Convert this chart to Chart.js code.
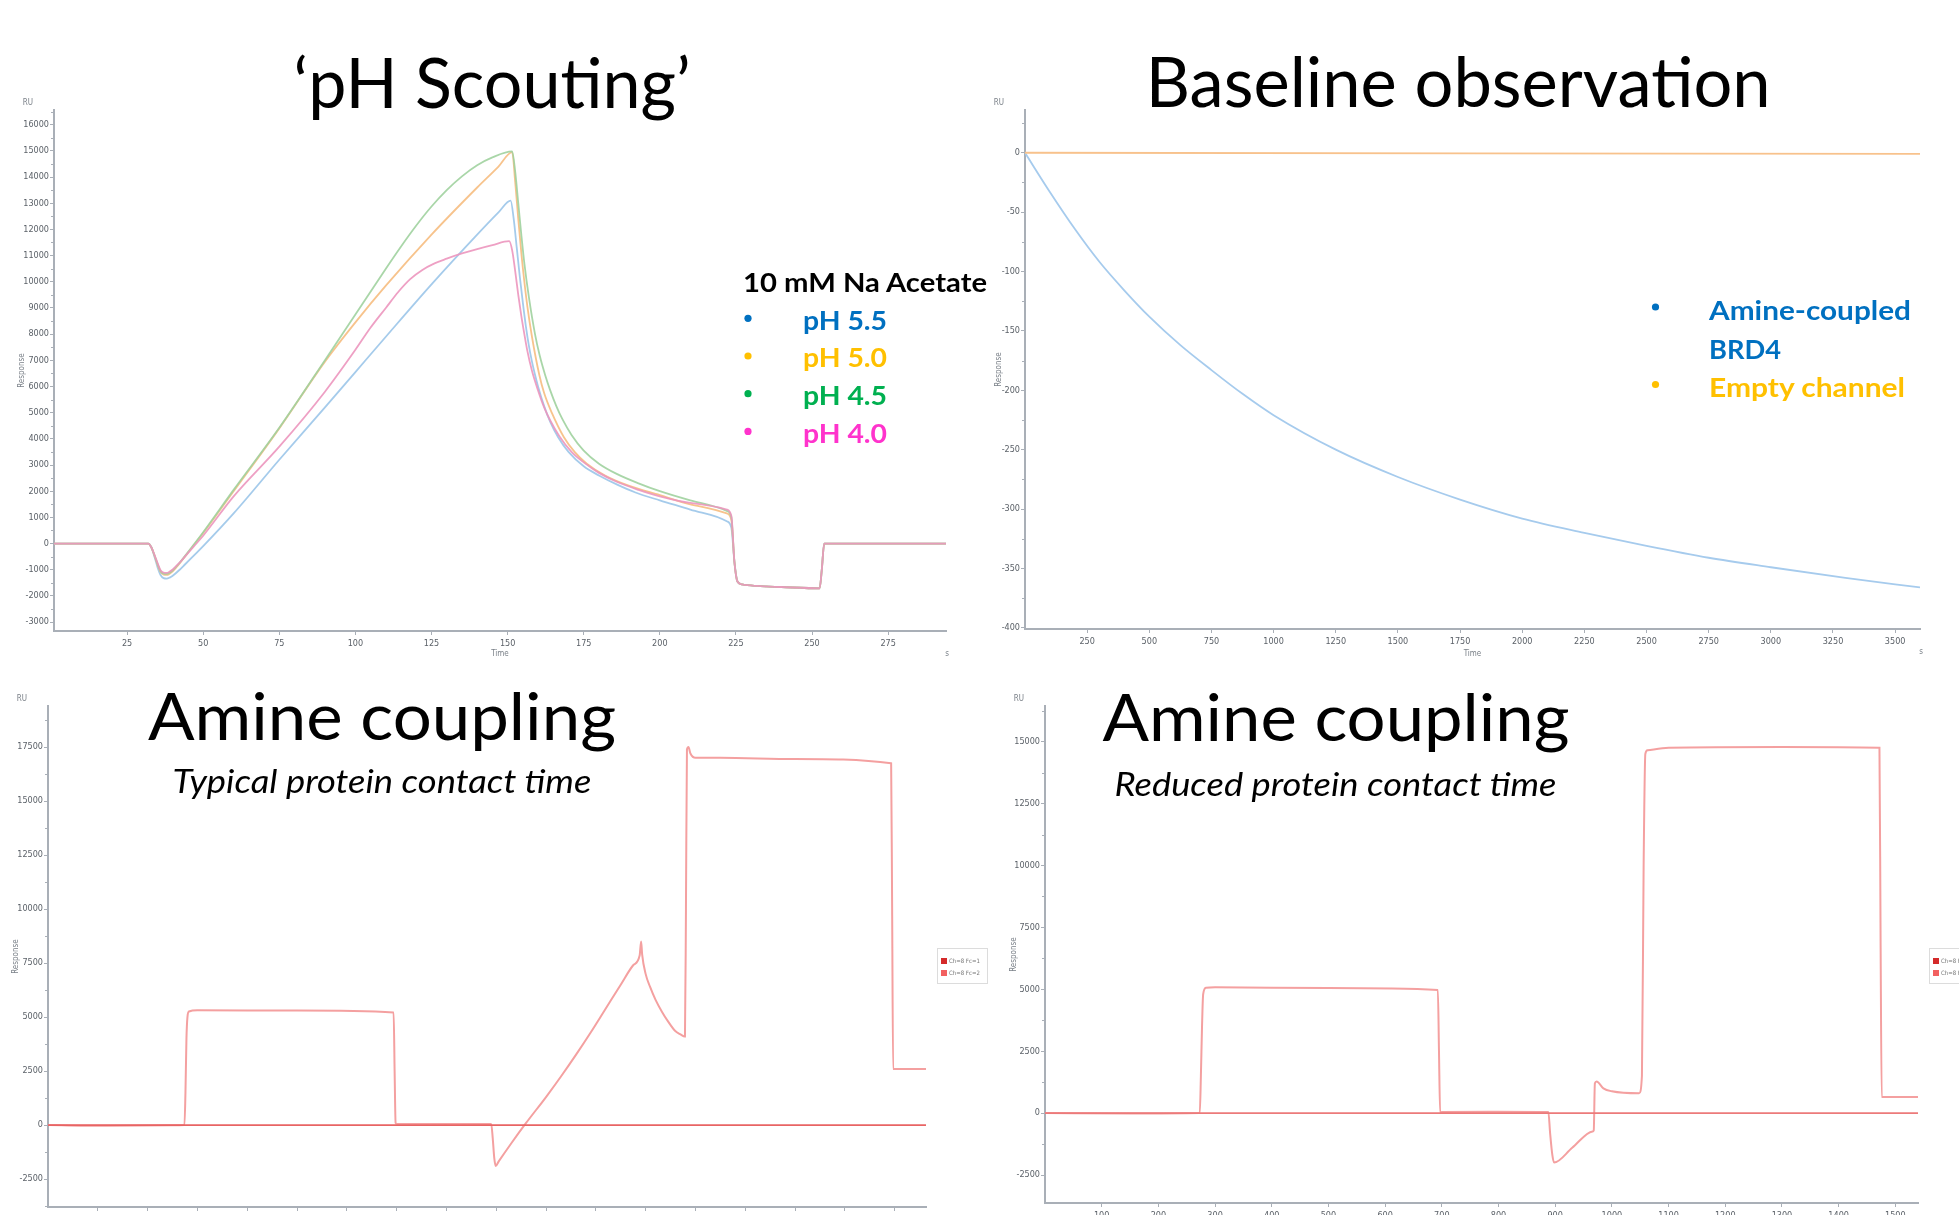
<!DOCTYPE html>
<html>
<head>
<meta charset="utf-8">
<script src="https://cdn.jsdelivr.net/npm/chart.js@4.4.0/dist/chart.umd.min.js"></script>
<style>
html, body { margin: 0; padding: 0; background: #fff; width: 1959px; height: 1215px; overflow: hidden; }
body { position: relative; }
canvas { position: absolute; }
#overlay { position: absolute; left: 0; top: 0; pointer-events: none; }
</style>
</head>
<body>
<canvas id="chartTL" width="960" height="570" style="left:0px;top:90px"></canvas>
<canvas id="chartTR" width="989" height="570" style="left:970px;top:90px"></canvas>
<canvas id="chartBL" width="1000" height="560" style="left:0px;top:690px"></canvas>
<canvas id="chartBR" width="1040" height="560" style="left:1000px;top:690px"></canvas>

<svg id="overlay" width="1959" height="1215">
  <g font-family="Lato, 'Open Sans', sans-serif" fill="#000">
    <text x="293.6" y="108" font-size="70" textLength="397" lengthAdjust="spacingAndGlyphs">‘pH Scouting’</text>
    <text x="1145.7" y="107" font-size="70" textLength="625" lengthAdjust="spacingAndGlyphs">Baseline observation</text>
    <text x="148" y="740" font-size="66" textLength="468" lengthAdjust="spacingAndGlyphs">Amine coupling</text>
    <text x="172.4" y="793" font-size="33" font-style="italic" textLength="419" lengthAdjust="spacingAndGlyphs">Typical protein contact time</text>
    <text x="1102.5" y="740.7" font-size="66" textLength="467" lengthAdjust="spacingAndGlyphs">Amine coupling</text>
    <text x="1114.5" y="796" font-size="33" font-style="italic" textLength="442" lengthAdjust="spacingAndGlyphs">Reduced protein contact time</text>
  </g>
  <g font-family="Lato, 'Open Sans', sans-serif" font-weight="bold" font-size="26">
    <text x="743" y="291.7" fill="#000" textLength="244" lengthAdjust="spacingAndGlyphs">10 mM Na Acetate</text>
    <circle cx="748" cy="318.3" r="3.6" fill="#0070c0"/>
    <text x="803" y="329.7" fill="#0070c0" textLength="84" lengthAdjust="spacingAndGlyphs">pH 5.5</text>
    <circle cx="748" cy="356" r="3.6" fill="#ffc000"/>
    <text x="803" y="367.4" fill="#ffc000" textLength="84" lengthAdjust="spacingAndGlyphs">pH 5.0</text>
    <circle cx="748" cy="393.7" r="3.6" fill="#00b050"/>
    <text x="803" y="405.1" fill="#00b050" textLength="84" lengthAdjust="spacingAndGlyphs">pH 4.5</text>
    <circle cx="748" cy="431.4" r="3.6" fill="#ff33cc"/>
    <text x="803" y="442.8" fill="#ff33cc" textLength="84" lengthAdjust="spacingAndGlyphs">pH 4.0</text>

    <circle cx="1655.5" cy="307" r="3.6" fill="#0070c0"/>
    <text x="1709" y="320" fill="#0070c0" textLength="202" lengthAdjust="spacingAndGlyphs">Amine-coupled</text>
    <text x="1709" y="358.6" fill="#0070c0" textLength="72" lengthAdjust="spacingAndGlyphs">BRD4</text>
    <circle cx="1655.5" cy="384.5" r="3.6" fill="#ffc000"/>
    <text x="1709" y="397.3" fill="#ffc000" textLength="196" lengthAdjust="spacingAndGlyphs">Empty channel</text>
  </g>
</svg>

<script>
// ---- pH scouting (top left), time in s, response in RU
const ph55T = [1, 32, 33, 34, 35, 36, 37, 38, 39, 40, 42, 44, 47, 50, 60, 75, 90, 100, 110, 125, 140, 147, 151, 152, 153, 154, 155, 156, 157, 158, 159, 160, 162, 164, 166.6, 170, 175, 180, 186, 192, 200, 210, 222, 223.5, 224.5, 225.5, 227, 232, 240, 252.5, 253.2, 254, 260, 294];
const ph55V = [0, 0, -150, -500, -900, -1200, -1320, -1340, -1300, -1230, -1030, -800, -450, -100, 1150, 3200, 5200, 6550, 7900, 9900, 11800, 12650, 13100, 12400, 11300, 10200, 9200, 8300, 7550, 6950, 6450, 6000, 5250, 4650, 4060, 3500, 2950, 2600, 2250, 1950, 1650, 1300, 850, 600, -700, -1450, -1560, -1620, -1660, -1710, -1000, 0, 0, 0];
const ph50T = [1, 32, 33, 34, 35, 36, 37, 38, 39, 40, 42, 44, 47, 50, 60, 75, 90, 100, 110, 125, 140, 147, 151.5, 152.5, 153.5, 154.5, 155.5, 156.5, 158, 160.4, 162, 164.5, 168.5, 172, 176, 182, 190, 200, 210, 222, 223.5, 224.5, 225.5, 227, 232, 240, 252.5, 253.2, 254, 260, 294];
const ph50V = [0, 0, -150, -450, -800, -1080, -1190, -1200, -1150, -1060, -800, -500, -50, 400, 2000, 4400, 6950, 8450, 9850, 11800, 13600, 14400, 14950, 13800, 12400, 11100, 10000, 9050, 7900, 6450, 5750, 5000, 4060, 3500, 3050, 2600, 2200, 1850, 1500, 1150, 900, -700, -1450, -1560, -1620, -1660, -1710, -1000, 0, 0, 0];
const ph45T = [1, 32, 33, 34, 35, 36, 37, 38, 39, 40, 42, 44, 47, 50, 60, 75, 90, 100, 110, 115, 120, 125, 130, 135, 140, 145, 151.5, 152.5, 153.5, 154.5, 155.5, 157, 159, 160.5, 162.3, 164, 166, 168, 171, 175, 180, 186, 193, 200, 210, 222, 223.5, 224.5, 225.5, 227, 232, 240, 252.5, 253.2, 254, 260, 294];
const ph45V = [0, 0, -150, -450, -780, -1060, -1150, -1160, -1110, -1020, -770, -480, -30, 430, 2050, 4420, 7000, 8750, 10500, 11350, 12150, 12875, 13500, 14025, 14450, 14750, 14980, 14200, 13000, 11800, 10700, 9400, 8000, 7200, 6450, 5850, 5250, 4750, 4150, 3550, 3050, 2650, 2300, 2000, 1650, 1250, 1000, -700, -1450, -1560, -1620, -1660, -1710, -1000, 0, 0, 0];
const ph40T = [1, 32, 33, 34, 35, 36, 37, 38, 39, 40, 42, 44, 47, 50, 60, 75, 90, 100, 105, 110, 114, 118, 122, 126, 130, 135, 140, 145, 150.5, 151.5, 152.5, 153.5, 154.5, 155.5, 156.5, 158, 160, 162, 164, 167, 171, 175, 180, 186, 193, 200, 210, 222, 223.5, 224.5, 225.5, 227, 232, 240, 252.5, 253.2, 254, 260, 294];
const ph40V = [0, 0, -150, -430, -740, -1020, -1110, -1120, -1070, -990, -760, -500, -100, 300, 1800, 3700, 5800, 7400, 8250, 9000, 9600, 10100, 10450, 10700, 10880, 11080, 11250, 11400, 11550, 11200, 10400, 9500, 8700, 8000, 7350, 6600, 5850, 5200, 4700, 4100, 3500, 3100, 2700, 2350, 2050, 1800, 1550, 1300, 1050, -700, -1450, -1560, -1620, -1660, -1710, -1000, 0, 0, 0];
const tlXTicks = [25, 50, 75, 100, 125, 150, 175, 200, 225, 250, 275];
const tlYTicks = [-3000, -2000, -1000, 0, 1000, 2000, 3000, 4000, 5000, 6000, 7000, 8000, 9000, 10000, 11000, 12000, 13000, 14000, 15000, 16000];

// ---- baseline observation (top right)
const brd4T = [0, 100, 200, 300, 400, 500, 625, 750, 875, 1000, 1250, 1500, 1750, 2000, 2250, 2500, 2750, 3000, 3300, 3600];
const brd4V = [0, -33, -64, -92, -116, -138, -162, -183, -203, -221, -250, -273, -292, -308, -320, -331, -341, -349, -358, -366];
const emptyT = [0, 3600];
const emptyV = [0, -1];
const trXTicks = [250, 500, 750, 1000, 1250, 1500, 1750, 2000, 2250, 2500, 2750, 3000, 3250, 3500];
const trYTicks = [-400, -350, -300, -250, -200, -150, -100, -50, 0];

// ---- amine coupling, typical contact time (bottom left)
const typFc2T = [0, 120, 250, 274, 276, 278, 280, 283, 300, 500, 694, 696, 698, 700, 890, 893, 896, 899, 905, 930, 960, 1000, 1030, 1060, 1090, 1120, 1150, 1175, 1188, 1191, 1193, 1200, 1209, 1220, 1233, 1245, 1259, 1270, 1279, 1281, 1283, 1286, 1290, 1300, 1350, 1500, 1693, 1695, 1697, 1763];
const typFc2V = [0, -30, -10, 0, 1500, 4000, 5000, 5260, 5320, 5300, 5210, 2500, 100, 60, 50, -600, -1500, -1890, -1680, -850, 100, 1300, 2250, 3250, 4300, 5400, 6500, 7400, 7850, 8500, 7900, 7000, 6400, 5800, 5240, 4800, 4370, 4200, 4100, 10000, 17400, 17500, 17200, 17000, 17000, 16950, 16750, 10000, 2600, 2600];
const typFc1T = [0, 1763];
const typFc1V = [0, 0];
const blXTicks = [100, 200, 300, 400, 500, 600, 700, 800, 900, 1000, 1100, 1200, 1300, 1400, 1500, 1600, 1700];
const blYTicks = [-2500, 0, 2500, 5000, 7500, 10000, 12500, 15000, 17500];

// ---- amine coupling, reduced contact time (bottom right)
const redFc2T = [0, 150, 273, 275, 277, 279, 284, 300, 500, 693, 695, 697, 700, 800, 888, 891, 895, 898, 930, 966, 968, 970, 973, 985, 1000, 1048, 1053, 1056, 1059, 1063, 1100, 1300, 1472, 1474, 1476, 1540];
const redFc2V = [0, -20, 0, 1500, 3500, 4800, 5060, 5080, 5050, 4970, 2500, 30, 40, 50, 40, -800, -1700, -1995, -1400, -740, -700, 1200, 1280, 1000, 880, 800, 1500, 10000, 14500, 14650, 14750, 14780, 14750, 7000, 650, 650];
const redFc1T = [0, 1540];
const redFc1V = [0, 0];
const brXTicks = [100, 200, 300, 400, 500, 600, 700, 800, 900, 1000, 1100, 1200, 1300, 1400, 1500];
const brYTicks = [-2500, 0, 2500, 5000, 7500, 10000, 12500, 15000];

const AXIS = '#a9afb7';
const TICK = '#5b6168';
const LABEL = '#7a8088';

Chart.defaults.font.family = '"Liberation Sans Narrow", "DejaVu Sans Condensed", "Roboto", sans-serif';

function pts(t, v) {
    return t.map(function (x, i) { return { x: x, y: v[i] }; });
}

// minor ticks, RU / s labels and the little boxed legend of the instrument plots
const sprExtras = {
    id: 'sprExtras',
    afterDraw(chart, args, opts) {
        const ctx = chart.ctx;
        const a = chart.chartArea;
        const y = chart.scales.y;
        ctx.save();
        ctx.strokeStyle = AXIS;
        ctx.lineWidth = 1;
        const tv = y.ticks.map(t => t.value);
        const step = tv[1] - tv[0];
        for (let v = tv[0] - step / 2; v <= y.max; v += step) {
            if (v < y.min) continue;
            const py = Math.round(y.getPixelForValue(v)) + 0.5;
            ctx.beginPath();
            ctx.moveTo(a.left - 3, py);
            ctx.lineTo(a.left, py);
            ctx.stroke();
        }
        ctx.fillStyle = LABEL;
        ctx.font = '8px ' + Chart.defaults.font.family;
        ctx.textAlign = 'center';
        ctx.textBaseline = 'middle';
        ctx.fillText('RU', a.left - 26, a.top - 7);
        ctx.fillText('s', a.right + 1, a.bottom + 23);

        if (opts.box) {
            const bx = a.right + 11, by = a.top + 242;
            ctx.strokeStyle = '#dcdcdc';
            ctx.strokeRect(bx + 0.5, by + 0.5, 50, 35);
            ctx.font = '6px ' + Chart.defaults.font.family;
            ctx.textAlign = 'left';
            chart.data.datasets.forEach(function (ds, i) {
                ctx.fillStyle = ds.legendColor;
                ctx.fillRect(bx + 4, by + 10 + i * 12, 6, 6);
                ctx.fillStyle = '#777';
                ctx.fillText(ds.label, bx + 12, by + 13 + i * 12);
            });
        }
        ctx.restore();
    }
};

function sprChart(id, o) {
    return new Chart(document.getElementById(id), {
        type: 'line',
        data: {
            datasets: o.sets.map(function (s) {
                return {
                    label: s.label,
                    data: pts(s.t, s.v),
                    borderColor: s.color,
                    legendColor: s.legendColor,
                    borderWidth: s.width || 1.8,
                    pointRadius: 0,
                    fill: false,
                    cubicInterpolationMode: 'monotone'
                };
            })
        },
        options: {
            responsive: false,
            animation: false,
            devicePixelRatio: 1,
            events: [],
            layout: { padding: { top: o.padTop, right: o.padRight, left: 0, bottom: 0 } },
            plugins: {
                legend: { display: false },
                tooltip: { enabled: false },
                sprExtras: { box: o.box }
            },
            scales: {
                x: {
                    type: 'linear',
                    min: o.xMin,
                    max: o.xMax,
                    afterBuildTicks: s => { s.ticks = o.xTicks.map(v => ({ value: v })); },
                    afterFit: s => { s.height = o.xH; },
                    ticks: { color: TICK, font: { size: 9 }, padding: 3, maxRotation: 0, autoSkip: false, callback: v => String(v) },
                    grid: { drawOnChartArea: false, tickLength: 4, color: AXIS },
                    border: { color: AXIS, width: 2 },
                    title: { display: true, text: 'Time', color: LABEL, font: { size: 8 }, padding: { top: 0, bottom: 1 } }
                },
                y: {
                    type: 'linear',
                    min: o.yMin,
                    max: o.yMax,
                    afterBuildTicks: s => { s.ticks = o.yTicks.map(v => ({ value: v })); },
                    afterFit: s => { s.width = o.yW; },
                    ticks: { color: TICK, font: { size: 9 }, padding: 1, autoSkip: false, callback: v => String(v) },
                    grid: { drawOnChartArea: false, tickLength: 4, color: AXIS },
                    border: { color: AXIS, width: 2 },
                    title: { display: true, text: 'Response', color: LABEL, font: { size: 8 }, padding: { top: o.yTitlePad, bottom: 0 } }
                }
            }
        },
        plugins: [sprExtras]
    });
}

sprChart('chartTL', {
    sets: [
        { label: 'pH 4.0', t: ph40T, v: ph40V, color: 'rgba(236,150,190,0.9)' },
        { label: 'pH 4.5', t: ph45T, v: ph45V, color: 'rgba(160,210,158,0.9)' },
        { label: 'pH 5.0', t: ph50T, v: ph50V, color: 'rgba(246,188,128,0.9)' },
        { label: 'pH 5.5', t: ph55T, v: ph55V, color: 'rgba(160,200,234,0.95)' }
    ],
    xMin: 1, xMax: 294, yMin: -3340, yMax: 16560,
    xTicks: tlXTicks, yTicks: tlYTicks,
    yW: 54, xH: 29, padTop: 20, padRight: 14, yTitlePad: 17
});

sprChart('chartTR', {
    sets: [
        { label: 'Empty channel', t: emptyT, v: emptyV, color: '#f8c28c' },
        { label: 'Amine-coupled BRD4', t: brd4T, v: brd4V, color: '#a6cbed' }
    ],
    xMin: 0, xMax: 3600, yMin: -401, yMax: 36,
    xTicks: trXTicks, yTicks: trYTicks,
    yW: 55, xH: 31, padTop: 20, padRight: 39, yTitlePad: 24
});

sprChart('chartBL', {
    sets: [
        { label: 'Ch=8 Fc=1', t: typFc1T, v: typFc1V, color: '#e86464', legendColor: '#d42a2a', width: 1.6 },
        { label: 'Ch=8 Fc=2', t: typFc2T, v: typFc2V, color: '#f4a0a0', legendColor: '#f26060', width: 2 }
    ],
    xMin: 0, xMax: 1763, yMin: -3790, yMax: 19400,
    xTicks: blXTicks, yTicks: blYTicks,
    yW: 48, xH: 43, padTop: 16, padRight: 74, yTitlePad: 11, box: true
});

sprChart('chartBR', {
    sets: [
        { label: 'Ch=8 Fc=1', t: redFc1T, v: redFc1V, color: '#ec7a7a', legendColor: '#d42a2a', width: 1.6 },
        { label: 'Ch=8 Fc=2', t: redFc2T, v: redFc2V, color: '#f4a0a0', legendColor: '#f26060', width: 2 }
    ],
    xMin: 0, xMax: 1540, yMin: -3630, yMax: 16440,
    xTicks: brXTicks, yTicks: brYTicks,
    yW: 45, xH: 47, padTop: 16, padRight: 122, yTitlePad: 9, box: true
});
</script>
</body>
</html>
